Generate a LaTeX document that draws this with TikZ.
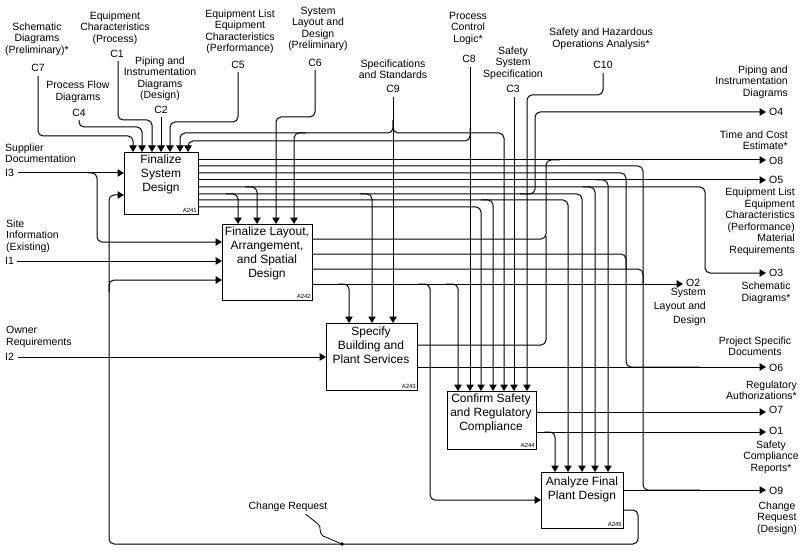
\documentclass[tikz,border=0pt]{standalone}
\usepackage{fontspec}
\setmainfont{Liberation Sans}
\usetikzlibrary{arrows.meta}
\begin{document}
\begin{tikzpicture}[x=1pt,y=-1pt,
  box/.style={draw, line width=1pt, fill=white, anchor=north west, inner sep=0pt},
  btxt/.style={font=\fontsize{12}{14}\selectfont, align=center, anchor=north, inner sep=0pt},
  bid/.style={font=\fontsize{6}{7}\selectfont, anchor=south east, inner sep=2pt},
  lbl/.style={font=\fontsize{10.5}{11.5}\selectfont, align=center, inner sep=0pt},
  wire/.style={line width=1pt, rounded corners=5pt},
  arr/.style={wire, -{Triangle[length=6.5pt,width=7.5pt]}}]
\useasboundingbox (0,0) rectangle (800,556);

% ---------- boxes ----------
\node[box, minimum width=74pt, minimum height=62pt] (a241) at (124,152) {};
\node[box, minimum width=90pt, minimum height=76pt] (a242) at (222,224) {};
\node[box, minimum width=91pt, minimum height=67pt] (a243) at (326,323) {};
\node[box, minimum width=89pt, minimum height=58pt] (a244) at (447,391) {};
\node[box, minimum width=82pt, minimum height=56pt] (a245) at (541,472) {};

\node[btxt] (t241) at (161,155) {Finalize\\System\\Design};
\node[btxt] (t242) at (267,227) {Finalize Layout,\\Arrangement,\\and Spatial\\Design};
\node[btxt] (t243) at (371,327) {Specify\\Building and\\Plant Services};
\node[btxt] (t244) at (491,394) {Confirm Safety\\and Regulatory\\Compliance};
\node[btxt] (t245) at (582,477) {Analyze Final\\Plant Design};

\node[bid] (i241) at (a241.south east) {A241};
\node[bid] (i242) at (a242.south east) {A242};
\node[bid] (i243) at (a243.south east) {A243};
\node[bid] (i244) at (a244.south east) {A244};
\node[bid] (i245) at (a245.south east) {A245};

% ---------- control labels ----------
\node[lbl] (lc7) at (37,39) {Schematic\\Diagrams\\(Preliminary)*};
\node[lbl] (nc7) at (38,68) {C7};
\node[lbl] (lc1) at (115,28) {Equipment\\Characteristics\\(Process)};
\node[lbl] (nc1) at (117,54) {C1};
\node[lbl] (lc4) at (78,92) {Process Flow\\Diagrams};
\node[lbl] (nc4) at (79,113) {C4};
\node[lbl] (lc2) at (160,79) {Piping and\\Instrumentation\\Diagrams\\(Design)};
\node[lbl] (nc2) at (161,110) {C2};
\node[lbl] (lc5) at (240,32) {Equipment List\\Equipment\\Characteristics\\(Performance)};
\node[lbl] (nc5) at (238,65) {C5};
\node[lbl] (lc6) at (318,29) {System\\Layout and\\Design\\(Preliminary)};
\node[lbl] (nc6) at (315,63) {C6};
\node[lbl] (lc9) at (393,69) {Specifications\\and Standards};
\node[lbl] (nc9) at (393,89) {C9};
\node[lbl] (lc8) at (468,28) {Process\\Control\\Logic*};
\node[lbl] (nc8) at (469,59) {C8};
\node[lbl] (lc3) at (513,63) {Safety\\System\\Specification};
\node[lbl] (nc3) at (513,89) {C3};
\node[lbl] (lc10) at (601,39) {Safety and Hazardous\\Operations Analysis*};
\node[lbl] (nc10) at (603,65) {C10};

% ---------- input labels ----------
\node[lbl, align=left, anchor=west] (li3) at (5,153) {Supplier\\Documentation};
\node[lbl, anchor=west] (ni3) at (5,173) {I3};
\node[lbl, align=left, anchor=west] (li1) at (6,236) {Site\\Information\\(Existing)};
\node[lbl, anchor=west] (ni1) at (5,261) {I1};
\node[lbl, align=left, anchor=west] (li2) at (6,337) {Owner\\Requirements};
\node[lbl, anchor=west] (ni2) at (5,357) {I2};

% ---------- output labels ----------
\node[lbl, align=right, anchor=east] (lo4) at (788,82) {Piping and\\Instrumentation\\Diagrams};
\node[lbl, anchor=west] (no4) at (769,112) {O4};
\node[lbl, align=right, anchor=east] (lo8) at (788,140) {Time and Cost\\Estimate*};
\node[lbl, anchor=west] (no8) at (769,161) {O8};
\node[lbl, anchor=west] (no5) at (769,180) {O5};
\node[lbl, align=right, anchor=east] (lo5) at (795,222) {Equipment List\\Equipment\\Characteristics\\(Performance)\\Material\\Requirements};
\node[lbl, anchor=west] (no3) at (769,273) {O3};
\node[lbl] (lo3) at (766,293) {Schematic\\Diagrams*};
\node[lbl, anchor=west] (no2) at (686,283) {O2};
\node[lbl, align=right, anchor=east, font=\fontsize{10.5}{14}\selectfont] (lo2) at (706,307) {System\\Layout and\\Design};
\node[lbl] (lo6) at (755,346) {Project Specific\\Documents};
\node[lbl, anchor=west] (no6) at (769,368) {O6};
\node[lbl, align=right, anchor=east] (lo7) at (797,390) {Regulatory\\Authorizations*};
\node[lbl, anchor=west] (no7) at (769,410) {O7};
\node[lbl, anchor=west] (no1) at (769,431) {O1};
\node[lbl] (lo1) at (771,457) {Safety\\Compliance\\Reports*};
\node[lbl, anchor=west] (no9) at (769,491) {O9};
\node[lbl] (lo9) at (777,518) {Change\\Request\\(Design)};

\node[lbl] (lcr) at (288,507) {Change Request};

% ---------- free ends ----------
\coordinate (c7) at (38,76);
\coordinate (c1) at (118,61);
\coordinate (c4) at (79,120);
\coordinate (c2) at (161,117);
\coordinate (c5) at (238,72);
\coordinate (c6) at (315,70);
\coordinate (c9) at (393,97);
\coordinate (c8) at (470,67);
\coordinate (c3) at (514,97);
\coordinate (c10) at (603,73);
\coordinate (i3) at (18,173);
\coordinate (i1) at (17,261);
\coordinate (i2) at (18,357);
\coordinate (o4) at (766,112);
\coordinate (o8) at (766,160);
\coordinate (o5) at (766,180);
\coordinate (o3) at (766,273);
\coordinate (o2) at (683,284);
\coordinate (o6) at (766,367);
\coordinate (o7) at (766,412);
\coordinate (o1) at (766,432);
\coordinate (o9) at (766,490);
\coordinate (crdot) at (342,544);

% ---------- controls ----------
\draw[arr] (c7) -- (38,136) -- (133,136) -- (133,0 |- a241.north);
\draw[arr] (c4) -- (79,127) -- (142,127) -- (142,0 |- a241.north);
\draw[arr] (c1) -- (118,120) -- (152,120) -- (152,0 |- a241.north);
\draw[arr] (c2) -- (161,0 |- a241.north);
\draw[arr] (c5) -- (238,122) -- (170,122) -- (170,0 |- a241.north);
\draw[arr] (c6) -- (315,117) -- (276,117) -- (276,0 |- a242.north);
\draw[arr] (c9) -- (393,0 |- a243.north);
\draw[arr] (393,120) -- (393,133) -- (180,133) -- (180,0 |- a241.north);
\draw[arr] (393,120) -- (393,133) -- (504,133) -- (504,0 |- a244.north);
\draw[arr] (306,133) -- (294,133) -- (294,0 |- a242.north);
\draw[arr] (c8) -- (470,0 |- a244.north);
\draw[arr] (470,128) -- (470,141) -- (188,141) -- (188,0 |- a241.north);
\draw[arr] (c3) -- (514,0 |- a244.north);
\draw[arr] (c10) -- (603,95) -- (527,95) -- (527,0 |- a244.north);

% ---------- inputs ----------
\draw[arr] (i3) -- (a241.west |- i3);
\draw[arr] (88,173) -- (97,173) -- (97,242) -- (a242.west |- 0,242);
\draw[arr] (i1) -- (a242.west |- i1);
\draw[arr] (i2) -- (a243.west |- i2);

% ---------- A241 outputs ----------
\draw[arr] (a241.east |- 0,160) -- (o8);
\draw[wire] (a241.east |- 0,166) -- (643,166) -- (643,490) -- (700,490);
\draw[wire] (a241.east |- 0,173) -- (626,173) -- (626,367) -- (700,367);
\draw[arr] (a241.east |- 0,180) -- (o5);
\draw[arr] (596,180) -- (608,180) -- (608,0 |- a245.north);
\draw[arr] (a241.east |- 0,187) -- (705,187) -- (705,273) -- (o3);
\draw[arr] (245,187) -- (257,187) -- (257,0 |- a242.north);
\draw[arr] (583,187) -- (595,187) -- (595,0 |- a245.north);
\draw[arr] (a241.east |- 0,194) -- (582,194) -- (582,0 |- a245.north);
\draw[arr] (226,194) -- (238,194) -- (238,0 |- a242.north);
\draw[arr] (360,194) -- (372,194) -- (372,0 |- a243.north);
\draw[arr] (520,194) -- (535,194) -- (535,112) -- (o4);
\draw[arr] (a241.east |- 0,200) -- (568,200) -- (568,0 |- a245.north);
\draw[arr] (481,200) -- (493,200) -- (493,0 |- a244.north);
\draw[arr] (a241.east |- 0,207) -- (481,207) -- (481,0 |- a244.north);

% ---------- A242 outputs ----------
\draw[wire] (a242.east |- 0,239) -- (546,239) -- (546,160) -- (560,160);
\draw[wire] (a242.east |- 0,254) -- (626,254) -- (626,270);
\draw[wire] (a242.east |- 0,269) -- (643,269) -- (643,285);
\draw[arr] (a242.east |- 0,284) -- (o2);
\draw[arr] (338,284) -- (349,284) -- (349,0 |- a243.north);
\draw[arr] (418,284) -- (430,284) -- (430,500) -- (a245.west |- 0,500);
\draw[arr] (446,284) -- (458,284) -- (458,0 |- a244.north);

% ---------- A243 outputs ----------
\draw[wire] (a243.east |- 0,345) -- (546,345) -- (546,236);
\draw[arr] (a243.east |- 0,367) -- (o6);

% ---------- A244 outputs ----------
\draw[arr] (a244.east |- 0,412) -- (o7);
\draw[arr] (a244.east |- 0,432) -- (o1);
\draw[arr] (544,432) -- (555,432) -- (555,0 |- a245.north);

% ---------- A245 outputs ----------
\draw[arr] (a245.east |- 0,490) -- (o9);
\draw[arr] (a245.east |- 0,510) -- (638,510) -- (638,544) -- (109,544) -- (109,195) -- (a241.west |- 0,195);
\draw[arr] (109,292) -- (109,280) -- (a242.west |- 0,280);

% ---------- change request squiggle ----------
\draw[line width=0.8pt] (lcr.south east) ++(-22,2) -- (318,524) .. controls (322,527) and (318,532) .. (323,536) -- (crdot);
\fill (crdot) circle (1.8pt);
\end{tikzpicture}
\end{document}
